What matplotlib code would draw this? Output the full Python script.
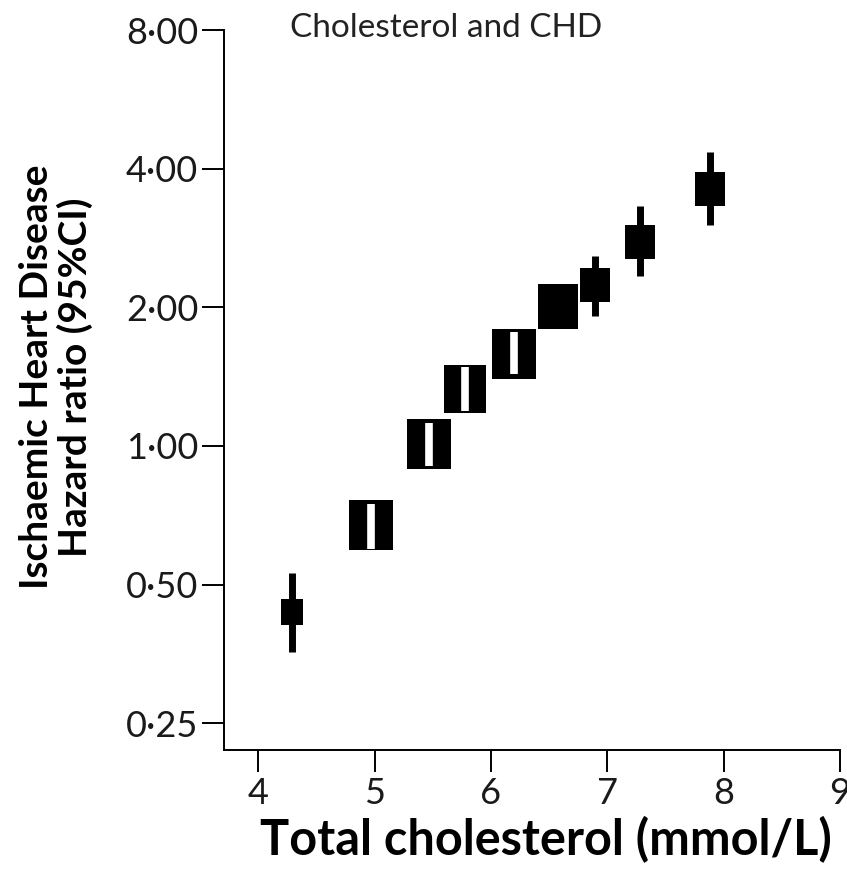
import matplotlib.pyplot as plt
from matplotlib.path import Path

# Hazard ratios for ischaemic heart disease by usual total cholesterol group
cholesterol = [4.29, 4.97, 5.47, 5.78, 6.20, 6.58, 6.89, 7.28, 7.88]
hazard_ratio = [0.436, 0.672, 1.01, 1.33, 1.58, 2.01, 2.23, 2.77, 3.62]
ci_lower = [0.357, 0.597, 0.905, 1.19, 1.43, 2.01, 1.91, 2.34, 3.02]
ci_upper = [0.530, 0.748, 1.12, 1.48, 1.77, 2.01, 2.58, 3.32, 4.34]
box_weight = [18.7, 36.7, 36.0, 34.6, 36.0, 32.4, 23.8, 23.8, 24.5]

y_ticks = [0.25, 0.5, 1, 2, 4, 8]
y_tick_labels = ['0·25', '0·50', '1·00', '2·00', '4·00', '8·00']
x_ticks = [4, 5, 6, 7, 8, 9]
x_tick_labels = ['4', '5', '6', '7', '8', '9']

plt.rcParams['font.family'] = ['Lato', 'DejaVu Sans']

W, H, DPI = 847, 877, 100
fig = plt.figure(figsize=(W / DPI, H / DPI), dpi=DPI)
ax = fig.add_axes([224 / W, 1 - 750 / H, (840 - 224) / W, (750 - 30) / H])

ax.set_yscale('log', base=2)
ax.set_xlim(3.705, 9.0)
ax.set_ylim(0.2186, 8.0)

# rectangular box marker, slightly taller than wide
box = Path([(-0.44, -0.5), (0.44, -0.5), (0.44, 0.5), (-0.44, 0.5), (-0.44, -0.5)],
           [Path.MOVETO, Path.LINETO, Path.LINETO, Path.LINETO, Path.CLOSEPOLY])

for x, hr, lo, hi, w in zip(cholesterol, hazard_ratio, ci_lower, ci_upper, box_weight):
    ax.plot([x, x], [lo, hi], color='black', lw=5, solid_capstyle='butt', zorder=2)
    ax.plot([x], [hr], marker=box, ms=w, color='black', mew=0, ls='none', zorder=3)
    # CI drawn in white when it sits wholly inside the box
    yc = ax.transData.transform((x, hr))[1]
    half = w * DPI / 72 / 2
    ylo = ax.transData.transform((x, lo))[1]
    yhi = ax.transData.transform((x, hi))[1]
    if hi > lo and yhi < yc + half and ylo > yc - half:
        ax.plot([x, x], [lo, hi], color='white', lw=5.5, solid_capstyle='butt', zorder=4)

ax.spines['top'].set_visible(False)
ax.spines['right'].set_visible(False)
for s in ('left', 'bottom'):
    ax.spines[s].set_linewidth(1.4)

ax.set_yticks(y_ticks)
ax.set_yticklabels(y_tick_labels)
ax.minorticks_off()
ax.set_xticks(x_ticks)
ax.set_xticklabels(x_tick_labels)
ax.tick_params(axis='both', direction='out', length=15.6, width=1.4,
               labelsize=26, colors='black', labelcolor='#1a1a1a')
ax.tick_params(axis='y', pad=3)
ax.tick_params(axis='x', pad=4)

fig.text(290 / W, 1 - 13 / H, 'Cholesterol and CHD', fontsize=24, color='#222222',
         ha='left', va='top')
fig.text(56 / W, 1 - 377 / H, 'Ischaemic Heart Disease\nHazard ratio (95%CI)',
         rotation=90, fontsize=28, fontweight='bold', ha='center', va='center',
         multialignment='center', linespacing=1.1)
fig.text(546 / W, 1 - 855 / H, 'Total cholesterol (mmol/L)', fontsize=35,
         fontweight='bold', ha='center', va='baseline')

fig.savefig('out.png', dpi=DPI)
